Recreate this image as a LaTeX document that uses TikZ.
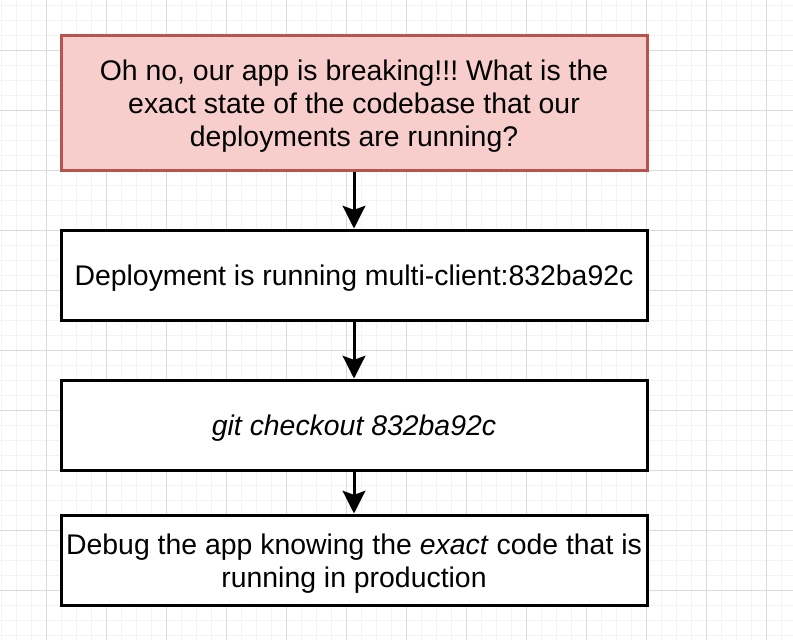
\documentclass[tikz,border=0pt]{standalone}
\usepackage{fontspec}
\setmainfont{Liberation Sans}
\usetikzlibrary{arrows.meta}
\definecolor{minorgrid}{HTML}{F3F3F3}
\definecolor{majorgrid}{HTML}{DADADA}
\definecolor{redfill}{HTML}{F8CECC}
\definecolor{redline}{HTML}{B85450}
\frenchspacing
\begin{document}
\begin{tikzpicture}[x=0.75pt,y=-0.75pt,
  box/.style={draw=black,line width=2.25pt,fill=white,minimum width=586*0.75pt,minimum height=90*0.75pt,inner sep=0pt},
  txt/.style={align=center,inner sep=0pt,yshift=-2.5pt,font=\fontsize{21.3}{24.75}\selectfont},
  conn/.style={line width=2.25pt,-{Stealth[length=17pt,width=17pt,inset=3pt]}}]
\useasboundingbox (0,0) rectangle (793,640);
\fill[white] (0,0) rectangle (793,640);
\foreach \i in {0,...,53} {\draw[minorgrid,line width=0.75pt] ({1.7+15*\i},0) -- ({1.7+15*\i},640);}
\foreach \i in {0,...,43} {\draw[minorgrid,line width=0.75pt] (0,{5+15*\i}) -- (793,{5+15*\i});}
\foreach \i in {0,...,13} {\draw[majorgrid,line width=0.75pt] ({-13.3+60*\i},0) -- ({-13.3+60*\i},640);}
\foreach \i in {0,...,10} {\draw[majorgrid,line width=0.75pt] (0,{-10+60*\i}) -- (793,{-10+60*\i});}
\node[box,draw=redline,fill=redfill,minimum height=135*0.75pt] (q) at (354,102.5) {};
\node[txt] (qt) at (q.center) {Oh no, our app is breaking!!! What is the\\exact state of the codebase that our\\deployments are running?};
\node[box] (d) at (354,275) {};
\node[txt] (dt) at (d.center) {Deployment is running multi-client:832ba92c};
\node[box] (g) at (354,425) {};
\node[txt] (gt) at (g.center) {\itshape git checkout 832ba92c};
\node[box] (b) at (354,560) {};
\node[txt] (bt) at (b.center) {Debug the app knowing the \textit{exact} code that is\\running in production};
\draw[conn] (q) -- (d);
\draw[conn] (d) -- (g);
\draw[conn] (g) -- (b);
\end{tikzpicture}
\end{document}
